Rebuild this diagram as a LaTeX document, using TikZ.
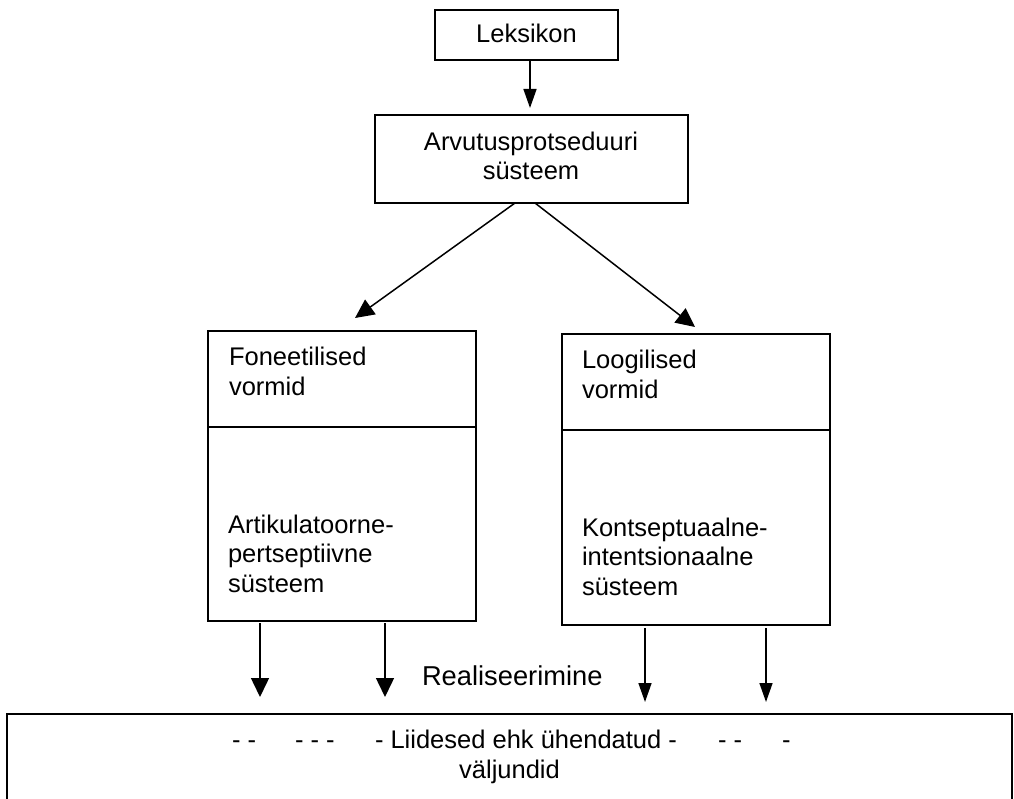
\documentclass[tikz,border=0pt]{standalone}
\usepackage{fontspec}
\setmainfont{Liberation Sans}
\usetikzlibrary{arrows.meta}

\begin{document}
\begin{tikzpicture}[x=1pt,y=-1pt,
  box/.style={draw, line width=1.8pt, inner sep=0pt, outer sep=0pt},
  lbl/.style={inner sep=0pt, outer sep=0pt, anchor=base west, align=left,
              font=\fontsize{25.5}{29.5}\selectfont},
  clbl/.style={lbl, anchor=base, align=center},
  arr/.style={line width=1.5pt, -{Triangle[length=19pt,width=18pt]}},
  narrowarr/.style={line width=1.5pt, -{Triangle[length=19pt,width=13pt]}},
]
\useasboundingbox (0,0) rectangle (1014,799);
\clip (0,0) rectangle (1014,799);

% boxes
\node[box, minimum width=183pt, minimum height=50pt] (lek) at (526.5,35) {};
\node[box, minimum width=313pt, minimum height=88pt] (arv) at (531.5,159) {};
\node[box, minimum width=268pt, minimum height=96pt] (fonTop) at (342,379) {};
\node[box, minimum width=268pt, minimum height=194pt] (fonBot) at (342,524) {};
\node[box, minimum width=268pt, minimum height=96pt] (logTop) at (696,382) {};
\node[box, minimum width=268pt, minimum height=195pt] (logBot) at (696,527.5) {};
\node[box, minimum width=1005pt, minimum height=120pt] (out) at (509.5,774) {};

% texts (multi-line nodes are placed by the baseline of their last line)
\node[clbl] (lekT) at (526.5,43) {Leksikon};
\node[clbl] (arvT) at (531,180) {Arvutusprotseduuri\\süsteem};
\node[lbl] (fonT1) at (229,395) {Foneetilised\\vormid};
\node[lbl] (fonT2) at (228,592) {Artikulatoorne-\\pertseptiivne\\süsteem};
\node[lbl] (logT1) at (582,398) {Loogilised\\vormid};
\node[lbl] (logT2) at (582,595) {Kontseptuaalne-\\intentsionaalne\\süsteem};
\node[lbl, font=\fontsize{27.3}{31}\selectfont] (real) at (422,685) {Realiseerimine};
\node[lbl] (o1) at (232,748) {- -};
\node[lbl] (o2) at (295,748) {- - -};
\node[lbl] (o3) at (375,748) {- Liidesed ehk ühendatud -};
\node[lbl] (o4) at (718,748) {- -};
\node[lbl] (o5) at (782,748) {-};
\node[clbl] (o6) at (509.5,778) {väljundid};

% arrows
\draw[narrowarr] ([xshift=3.5pt]lek.south) -- ([xshift=-1.5pt,yshift=7pt]arv.north);
\draw[arr] ([xshift=-16.5pt]arv.south) -- ([xshift=13pt,yshift=13pt]fonTop.north);
\draw[arr] ([xshift=3.5pt]arv.south) -- ([xshift=-1pt,yshift=7pt]logTop.north);

\coordinate (p1) at ([xshift=-82pt,yshift=-2pt]fonBot.south);
\coordinate (p2) at ([xshift=43pt,yshift=-2pt]fonBot.south);
\coordinate (p3) at ([xshift=-51pt,yshift=-3pt]logBot.south);
\coordinate (p4) at ([xshift=70pt,yshift=-3pt]logBot.south);
\draw[arr, shorten >=17pt] (p1) -- (p1 |- out.north);
\draw[arr, shorten >=17pt] (p2) -- (p2 |- out.north);
\draw[narrowarr, shorten >=12pt] (p3) -- (p3 |- out.north);
\draw[narrowarr, shorten >=12pt] (p4) -- (p4 |- out.north);
\end{tikzpicture}
\end{document}
